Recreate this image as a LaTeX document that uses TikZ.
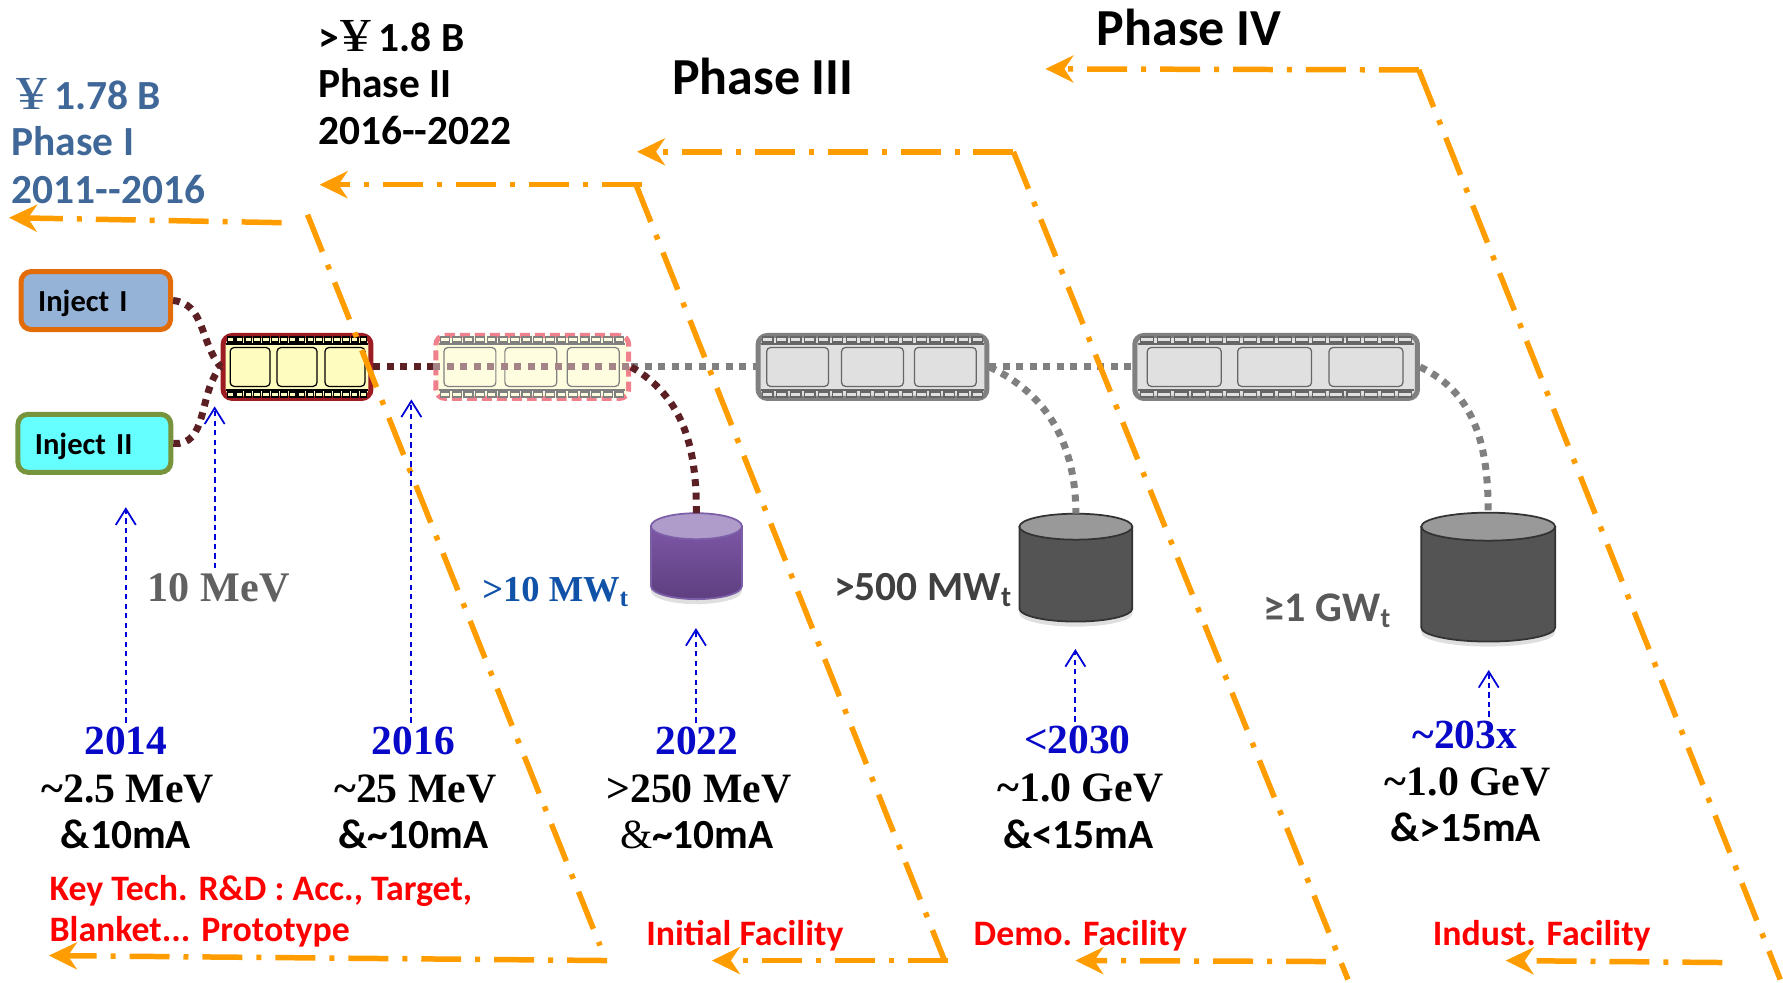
\documentclass[tikz,border=0pt]{standalone}
\usepackage{fontspec}
\setmainfont{Carlito}
\newfontfamily\timesbf{Liberation Serif}[BoldFont={* Bold}]
\usetikzlibrary{arrows.meta,shadows,calc,positioning}

\definecolor{orangeline}{HTML}{FF9C00}
\definecolor{dotdark}{HTML}{5C2024}
\definecolor{dotgray}{HTML}{808080}
\definecolor{darkred}{HTML}{9C1C22}
\definecolor{pinkline}{HTML}{F0808C}
\definecolor{stripgray}{HTML}{808080}
\definecolor{phaseblue}{HTML}{3F6797}
\definecolor{yearblue}{HTML}{0808C8}
\definecolor{mwblue}{HTML}{0F52A8}
\definecolor{injectfilla}{HTML}{95B3D7}
\definecolor{injectdrawa}{HTML}{E36C0A}
\definecolor{injectfillb}{HTML}{66FFFF}
\definecolor{injectdrawb}{HTML}{77933C}
\definecolor{tanktop}{HTML}{7D57A6}
\definecolor{tankbottom}{HTML}{5E3F80}
\definecolor{tankedge}{HTML}{7D5FA8}
\definecolor{tankcap}{HTML}{B09CCB}

\newcommand{\yen}[1]{{\timesbf\mdseries\fontsize{13.5}{14}\selectfont\hspace{#1}\scalebox{1.3}[1]{¥}}}

% sprocket rows and frames inside a strip node
\newcommand{\filmdetails}[6]{%
  \begin{scope}[shift={(#1.center)}]
    \draw[#3,line width=.35pt] (-#2,-23) -- (#2,-23) (-#2,23) -- (#2,23);
    \foreach \i in {1,...,16} {
      \pgfmathsetmacro{\sx}{-#2+(\i-.5)*#2/8}
      \pgfmathsetmacro{\sw}{#2/8*.38}
      \draw[#3,fill=#4,line width=.35pt] (\sx-\sw,-30) rectangle (\sx+\sw,-25);
      \draw[#3,fill=#4,line width=.35pt] (\sx-\sw,25) rectangle (\sx+\sw,30);
    }
    \foreach \fx in {#6}
      \draw[#3,rounded corners=.04cm,line width=.35pt] (\fx-#5,-19.5) rectangle (\fx+#5,19.5);
  \end{scope}}

\begin{document}
\begin{tikzpicture}
    [x=.01cm, y=-.01cm,
    inject/.style={draw, line width=.05cm, rounded corners=.1cm, minimum height=.58cm,
      inner xsep=.17cm, align=left, text depth=0pt, font=\bfseries\fontsize{8.7}{10}\selectfont},
    strip/.style={draw, line width=.05cm, rounded corners=.09cm, minimum height=.63cm, inner sep=0pt},
    tankspot/.style={inner sep=0pt, outer sep=0pt},
    tankbody/.style={line width=.5pt, drop shadow={shadow xshift=0cm, shadow yshift=-.05cm, opacity=.25}},
    beam/.style={line width=.07cm, dash pattern=on .07cm off .065cm},
    phase/.style={orangeline, line width=.055cm, dash pattern=on .4cm off .14cm on .05cm off .14cm},
    phasehead/.style={-{Stealth[inset=.09cm,length=.28cm,width=.27cm]}},
    up/.style={blue!85!black, line width=.5pt, dash pattern=on 1.5pt off 1.2pt, -{Straight Barb[length=.16cm,width=.2cm]}},
    yearlab/.style={yearblue, inner sep=1pt, font=\timesbf\bfseries\fontsize{11.8}{14}\selectfont},
    mevlab/.style={inner sep=0pt, font=\timesbf\bfseries\fontsize{11.9}{14}\selectfont},
    malab/.style={inner sep=0pt, font=\bfseries\fontsize{11.8}{14}\selectfont},
    redlab/.style={red, inner sep=0pt, font=\bfseries\fontsize{10.2}{12}\selectfont},
    moneylab/.style={anchor=west, inner sep=0pt, font=\bfseries\fontsize{11.8}{14}\selectfont}]

  \node[inject,fill=injectfilla,draw=injectdrawa,text width=1.155cm] (I1) at (96,301) {Inject I};
  \node[inject,fill=injectfillb,draw=injectdrawb,text width=1.19cm] (I2) at (94.5,444) {Inject II};

  \node[strip,draw=darkred,fill=yellow!25,minimum width=1.48cm] (F1) at (297.5,367.5) {};
  \node[strip,draw=pinkline,dash pattern=on .1cm off .05cm,fill=yellow!12,minimum width=1.93cm,right=.6cm of F1] (F2) {};
  \node[strip,draw=stripgray,fill=black!12,minimum width=2.29cm,right=1.245cm of F2] (F3) {};
  \node[strip,draw=stripgray,fill=black!12,minimum width=2.83cm,right=1.43cm of F3] (F4) {};

  \filmdetails{F1}{71}{black}{yellow!25}{20}{-47,0,48}
  \filmdetails{F2}{93}{black!50}{yellow!12}{26}{-62.5,-1.5,61}
  \filmdetails{F3}{112}{black!60}{black!12}{31}{-75,0,73}
  \filmdetails{F4}{138}{black!60}{black!12}{37}{-92,-1.5,90}

  \node[tankspot,minimum width=.91cm,minimum height=.86cm] (T1) at (697.5,557) {};
  \node[tankspot,minimum width=1.13cm,minimum height=1.08cm] (T2) at (1077.5,568.5) {};
  \node[tankspot,minimum width=1.34cm,minimum height=1.29cm] (T3) at (1490.5,578) {};

  \draw[tankbody,draw=tankedge,top color=tanktop,bottom color=tankbottom]
    ($(T1.north west)+(0,13)$) -- ($(T1.south west)+(0,-13)$)
    arc[start angle=180,end angle=360,x radius=.455cm,y radius=.13cm]
    -- ($(T1.north east)+(0,13)$) -- cycle;
  \draw[tankbody,draw=black!80,fill=black!67]
    ($(T2.north west)+(0,13)$) -- ($(T2.south west)+(0,-13)$)
    arc[start angle=180,end angle=360,x radius=.565cm,y radius=.13cm]
    -- ($(T2.north east)+(0,13)$) -- cycle;
  \draw[tankbody,draw=black!80,fill=black!67]
    ($(T3.north west)+(0,14)$) -- ($(T3.south west)+(0,-14)$)
    arc[start angle=180,end angle=360,x radius=.67cm,y radius=.14cm]
    -- ($(T3.north east)+(0,14)$) -- cycle;

  \draw[fill=tankcap,draw=tankedge,line width=.5pt] ($(T1.north)+(0,13)$) ellipse (.455cm and .13cm);
  \draw[fill=black!40,draw=black!80,line width=.5pt] ($(T2.north)+(0,13)$) ellipse (.565cm and .13cm);
  \draw[fill=black!40,draw=black!80,line width=.5pt] ($(T3.north)+(0,14)$) ellipse (.67cm and .14cm);

  \draw[beam,dotdark] (I1.east) to[out=-5,in=130] (F1.west);
  \draw[beam,dotdark] (I2.east) to[out=-5,in=-130] (F1.west);
  \draw[beam,dotdark] (F1.east) -- (F2.west);
  \draw[beam,dotdark!55!white] (F2.west) -- (F2.east);
  \draw[beam,dotgray] (F2.east) -- (F3.west);
  \draw[beam,dotgray] (F3.east) -- (F4.west);
  \draw[beam,dotdark] (F2.east) to[out=-30,in=90] (T1.north);
  \draw[beam,dotgray] (F3.east) to[out=-25,in=90] (T2.north);
  \draw[beam,dotgray] (F4.east) to[out=-25,in=90] (T3.north);

  \coordinate (A1) at (282,223);   \coordinate (B1) at (9,218);
  \coordinate (C1) at (308,215);   \coordinate (D1) at (601,947);
  \coordinate (E1) at (608,962);   \coordinate (G1) at (49,957);
  \coordinate (A2) at (643,185);   \coordinate (B2) at (320,185);
  \coordinate (C2) at (637,185);   \coordinate (D2) at (946,962);
  \coordinate (E2) at (949,962);   \coordinate (G2) at (713,962);
  \coordinate (A3) at (1015,152);  \coordinate (B3) at (638,152);
  \coordinate (D3) at (1350,981);
  \coordinate (E3) at (1328,963);  \coordinate (G3) at (1077,962);
  \coordinate (A4) at (1421,70);   \coordinate (B4) at (1047,69);
  \coordinate (D4) at (1783,981);
  \coordinate (E4) at (1725,964);  \coordinate (G4) at (1508,962);

  \draw[phase,phasehead] (A1) -- (B1);
  \draw[phase] (C1) -- (D1);
  \draw[phase,phasehead] (E1) -- (G1);
  \draw[phase,phasehead] (A2) -- (B2);
  \draw[phase] (C2) -- (D2);
  \draw[phase,phasehead] (E2) -- (G2);
  \draw[phase,phasehead] (A3) -- (B3);
  \draw[phase] (A3) -- (D3);
  \draw[phase,phasehead] (E3) -- (G3);
  \draw[phase,phasehead] (A4) -- (B4);
  \draw[phase] (A4) -- (D4);
  \draw[phase,phasehead] (E4) -- (G4);

  \node[moneylab,phaseblue] (M1) at (11,94) {\yen{.05cm}\,1.78 B};
  \node[moneylab,phaseblue] (P1) at (11,141) {Phase I};
  \node[moneylab,phaseblue] (D1t) at (11,190) {2011-{}-2016};
  \node[moneylab] (M2) at (318,36) {>\yen{.02cm}\,1.8 B};
  \node[moneylab] (P2) at (318,83) {Phase II};
  \node[moneylab] (D2t) at (318,131) {2016-{}-2022};
  \node[inner sep=0pt,font=\bfseries\fontsize{14.8}{16}\selectfont] (P3) at (764,77) {Phase III};
  \node[inner sep=0pt,font=\bfseries\fontsize{14.8}{16}\selectfont] (P4) at (1191,27) {Phase IV};

  \node[mevlab,black!62,font=\timesbf\bfseries\fontsize{12}{14}\selectfont] (E10) at (219,589) {10 MeV};
  \node[mevlab,mwblue,font=\timesbf\bfseries\fontsize{10.4}{14}\selectfont] (W1) at (557,593) {>10 MW\textsubscript{t}};
  \node[malab,black!75] (W2) at (925,591) {>500 MW\textsubscript{t}};
  \node[malab,black!65,font=\bfseries\fontsize{12}{14}\selectfont] (W3) at (1330,612) {≥1 GW\textsubscript{t}};

  \node[yearlab] (Y1) at (126,742) {2014};
  \node[mevlab] (V1) at (128,790) {\textasciitilde2.5 MeV};
  \node[malab] (C1t) at (126,836) {\&10mA};
  \node[yearlab] (Y2) at (414,742) {2016};
  \node[mevlab] (V2) at (416,790) {\textasciitilde25 MeV};
  \node[malab] (C2t) at (414,836) {\&\textasciitilde10mA};
  \node[yearlab] (Y3) at (698,742) {2022};
  \node[mevlab] (V3) at (700,790) {>250 MeV};
  \node[malab] (C3t) at (698,836) {{\timesbf\mdseries\&}\textasciitilde10mA};
  \node[yearlab] (Y4) at (1079,741) {<2030};
  \node[mevlab] (V4) at (1082,789) {\textasciitilde1.0 GeV};
  \node[malab] (C4t) at (1080,836) {\&<15mA};
  \node[yearlab] (Y5) at (1467,736) {\textasciitilde203x};
  \node[mevlab] (V5) at (1470,783) {\textasciitilde1.0 GeV};
  \node[malab] (C5t) at (1468,829) {\&>15mA};

  \node[redlab,anchor=west] (R1) at (49,892) {Key Tech. R\&D : Acc., Target,};
  \node[redlab,anchor=west] (R2) at (49,933) {Blanket... Prototype};
  \node[redlab] (R3) at (746,937) {Initial Facility};
  \node[redlab] (R4) at (1082,937) {Demo. Facility};
  \node[redlab] (R5) at (1544,937) {Indust. Facility};

  \coordinate (t1) at (126,508);
  \coordinate (t2) at (215,407);
  \coordinate (t3) at (412,400);
  \coordinate (t4) at (697,629);
  \coordinate (t5) at (1077,650);
  \coordinate (t6) at (1491,671);

  \draw[up] (Y1.north -| t1) -- (t1);
  \draw[up,shorten <=.05cm] (E10.north -| t2) -- (t2);
  \draw[up] (Y2.north -| t3) -- (t3);
  \draw[up] (Y3.north -| t4) -- (t4);
  \draw[up] (Y4.north -| t5) -- (t5);
  \draw[up] (Y5.north -| t6) -- (t6);

  \useasboundingbox (0,0) rectangle (1783,981);
\end{tikzpicture}
\end{document}
